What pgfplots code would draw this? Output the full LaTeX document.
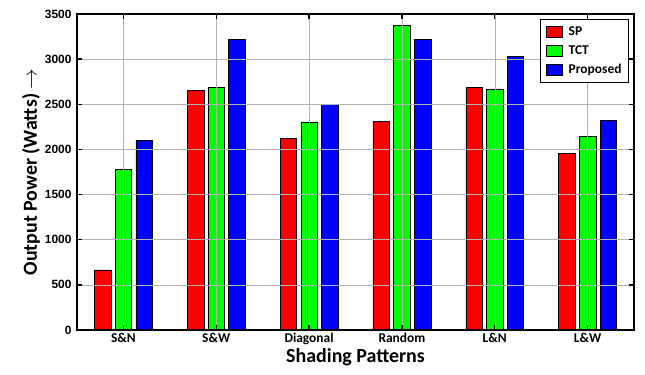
\documentclass[border=0pt]{standalone}
\usepackage{pgfplots}
\pgfplotsset{compat=1.18}
\usepackage{fontspec}
\setmainfont{Carlito}
\newfontfamily\arialf{Liberation Sans}
\definecolor{cR}{RGB}{255,0,0}
\definecolor{cG}{RGB}{0,255,0}
\definecolor{cB}{RGB}{0,0,255}
\begin{document}
\begin{tikzpicture}
\begin{axis}[
  scale only axis,
  width=557bp, height=316bp,
  xmin=-0.5, xmax=5.5,
  ymin=0, ymax=3500,
  xtick={0,1,2,3,4,5},
  xticklabels={S\&N,S\&W,Diagonal,Random,L\&N,L\&W},
  ytick={0,500,...,3500},
  /pgf/number format/assume math mode=true,
  /pgf/number format/1000 sep={},
  yticklabel style={font=\arialf\bfseries\fontsize{12}{14}\selectfont, xshift=-2bp},
  xticklabel style={font=\bfseries\fontsize{13.5}{15}\selectfont},
  xlabel={Shading Patterns},
  ylabel={Output Power (Watts) $\rightarrow$},
  xlabel style={font=\bfseries\fontsize{20}{22}\selectfont, yshift=4bp},
  ylabel style={font=\bfseries\fontsize{20}{22}\selectfont, yshift=-2bp},
  grid=major,
  major grid style={gray!60, line width=0.5pt},
  axis line style={line width=2.5pt},
  tick align=inside,
  major tick length=5bp,
  tick style={black, line width=1.5pt},
  axis on top,
  legend style={at={(0.991,0.984)}, anchor=north east, draw=black, line width=1pt,
    font=\bfseries\fontsize{13.5}{15}\selectfont, row sep=4.5bp, inner xsep=5bp, inner ysep=5bp,
    /tikz/every odd column/.append style={column sep=4bp}},
  legend cell align=left,
]
\addplot[ybar, forget plot, bar width=16.5bp, bar shift=-20.7bp, fill=cR, draw=black, line width=0.5pt]
  coordinates {(0,665) (1,2650) (2,2125) (3,2312) (4,2685) (5,1955)};
\addplot[ybar, forget plot, bar width=16.5bp, bar shift=0bp, fill=cG, draw=black, line width=0.5pt]
  coordinates {(0,1778) (1,2685) (2,2305) (3,3378) (4,2663) (5,2143)};
\addplot[ybar, forget plot, bar width=16.5bp, bar shift=20.7bp, fill=cB, draw=black, line width=0.5pt]
  coordinates {(0,2102) (1,3215) (2,2502) (3,3220) (4,3030) (5,2323)};
\addlegendimage{legend image code/.code={\draw[fill=cR, draw=black, line width=0.5pt] (0bp,-5.5bp) rectangle (16.5bp,5.5bp);}}
\addlegendentry{SP}
\addlegendimage{legend image code/.code={\draw[fill=cG, draw=black, line width=0.5pt] (0bp,-5.5bp) rectangle (16.5bp,5.5bp);}}
\addlegendentry{TCT}
\addlegendimage{legend image code/.code={\draw[fill=cB, draw=black, line width=0.5pt] (0bp,-5.5bp) rectangle (16.5bp,5.5bp);}}
\addlegendentry{Proposed}
\end{axis}
\path ([shift={(-77bp,-45bp)}]current axis.south west) rectangle ([shift={(11bp,14bp)}]current axis.north east);
\end{tikzpicture}
\end{document}
